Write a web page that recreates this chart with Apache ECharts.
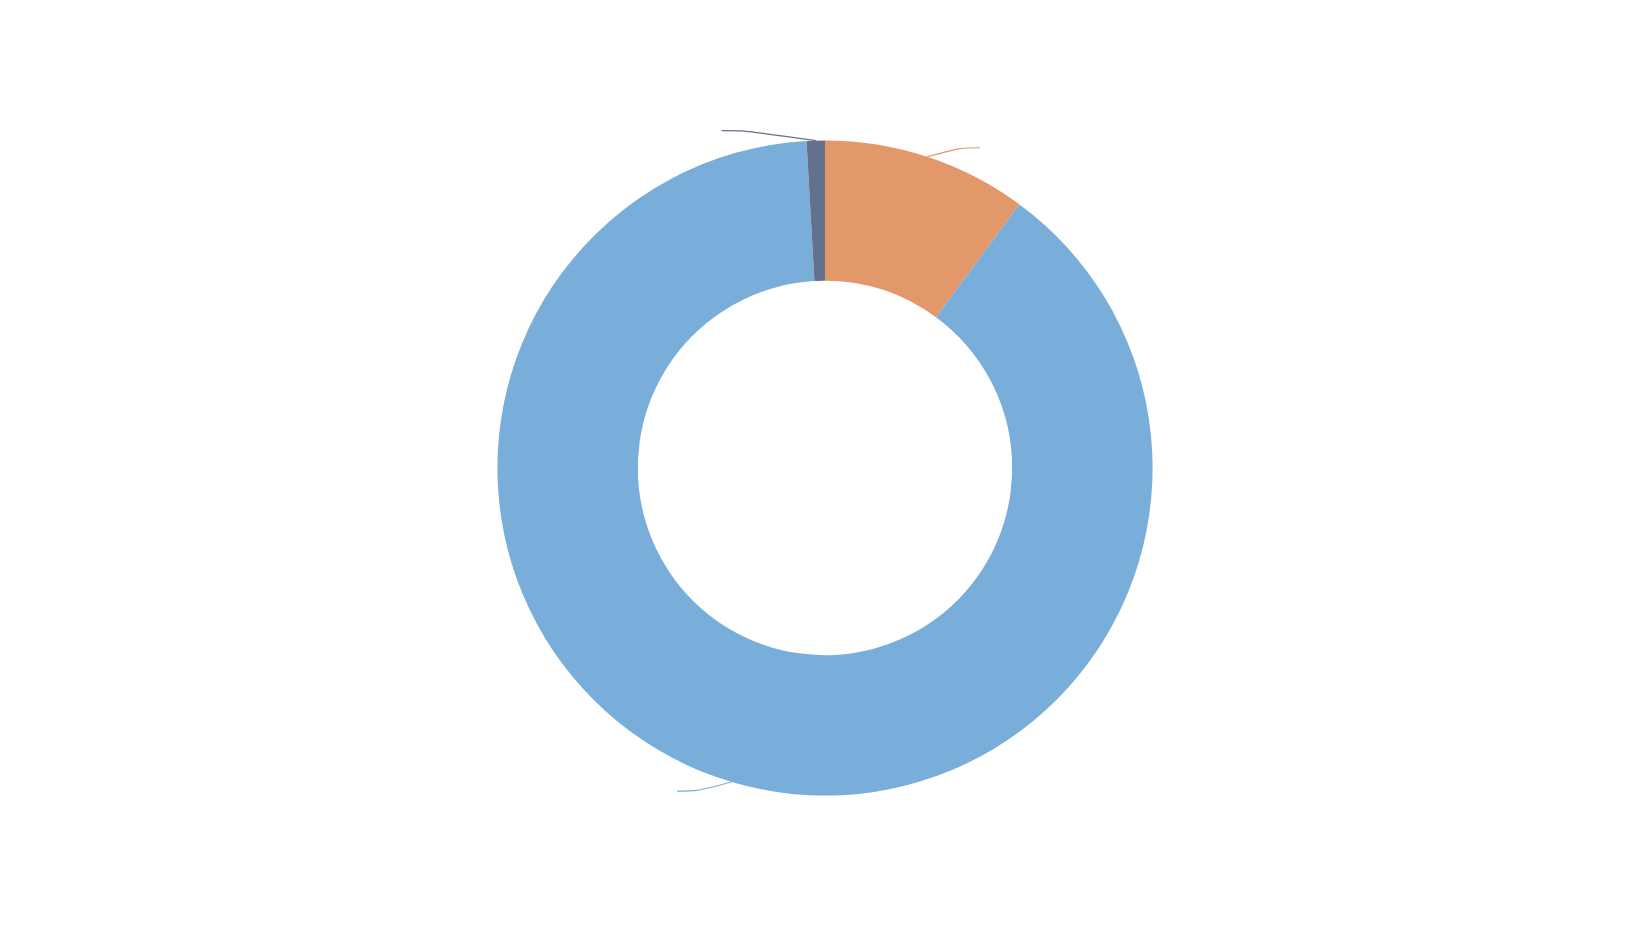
<!DOCTYPE html>
<html>
<head>
<meta charset="utf-8">
<script src="https://cdn.jsdelivr.net/npm/echarts@6/dist/echarts.min.js"></script>
<style>
  html, body { margin: 0; padding: 0; background: #fff; }
  #chart { width: 1650px; height: 936px; }
</style>
</head>
<body>
<div id="chart"></div>
<script>
  // slices, clockwise from the top
  const names = ['A', 'B', 'C']
  const values = [10.1, 89.0, 0.9]
  const colors = ['#e39869', '#79aeda', '#64708c']

  const labelShift = 10 // label lines bend toward the middle a bit

  const chart = echarts.init(document.getElementById('chart'))
  const data = names.map((n, i) => ({ name: n, value: values[i], itemStyle: { color: colors[i] } }))

  chart.setOption({
    backgroundColor: '#ffffff',
    animation: false,
    series: [{
      type: 'pie',
      center: ['50%', '50%'],
      radius: ['40%', '70%'],
      startAngle: 90,
      data: data,
      label: {
        show: true,
        fontSize: 1,
        color: 'rgba(0,0,0,0)',
      },
      labelLine: {
        show: true,
        length: 20,
        length2: 20,
        smooth: 0.3,
        lineStyle: { width: 1.2 },
      },
      labelLayout: function (params) {
        const pts = params.labelLinePoints
        if (!pts) return {}
        const cx = chart.getWidth() / 2
        const cy = chart.getHeight() / 2
        const p1 = pts[1]
        const rr = Math.hypot(p1[0] - cx, p1[1] - cy)
        const ny = p1[1] + (p1[1] < cy ? labelShift : -labelShift)
        const dirX = pts[2][0] >= p1[0] ? 1 : -1
        const nx = cx + dirX * Math.sqrt(Math.max(0, rr * rr - (ny - cy) * (ny - cy)))
        const len2 = Math.abs(pts[2][0] - p1[0])
        return { labelLinePoints: [pts[0], [nx, ny], [nx + dirX * len2, ny]] }
      },
    }],
  })
</script>
</body>
</html>
